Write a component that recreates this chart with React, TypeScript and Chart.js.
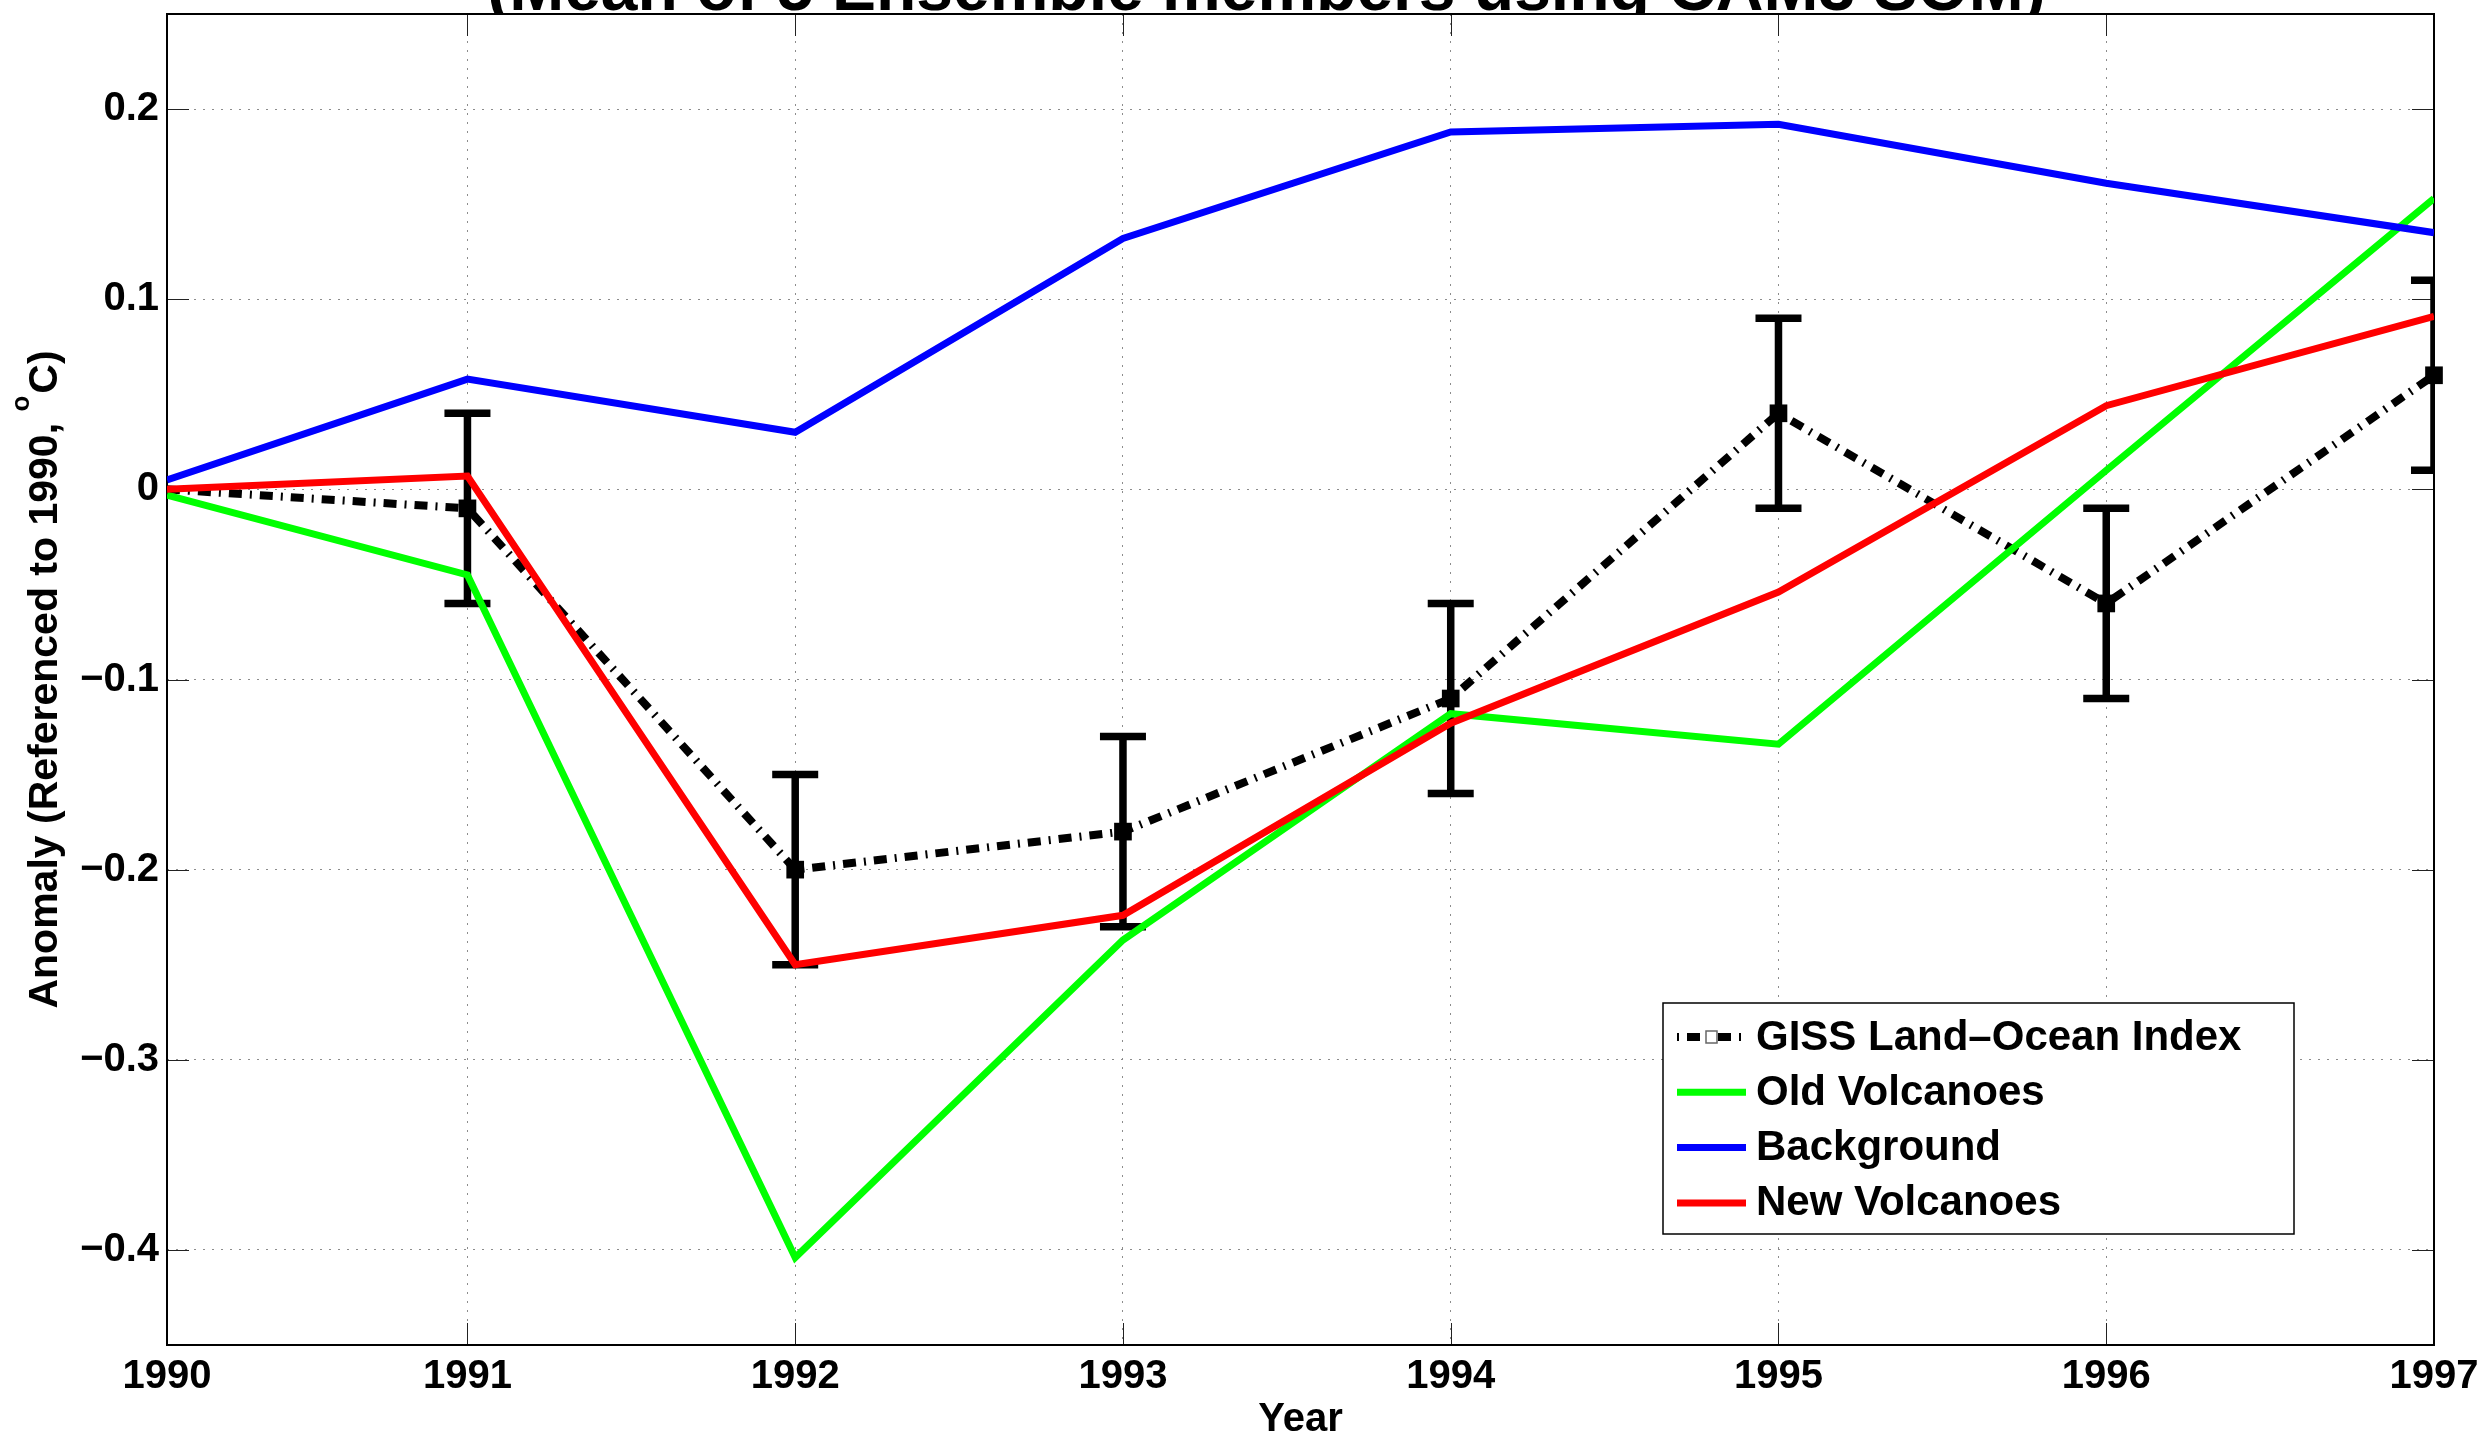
import React, { useEffect, useRef } from 'react';
import { Chart, registerables } from 'chart.js';

Chart.register(...registerables);

// ---- data ----
const yearLabels = ['1990', '1991', '1992', '1993', '1994', '1995', '1996', '1997'];
// decimal-year sample times (first sample is end of January 1990)
const sampleTimes = [1990 + 1 / 12, 1991, 1992, 1993, 1994, 1995, 1996, 1997];
const gissIndex = [0, -0.01, -0.2, -0.18, -0.11, 0.04, -0.06, 0.06];
const gissError = [0, 0.05, 0.05, 0.05, 0.05, 0.05, 0.05, 0.05];
const oldVolcanoes = [-0.003, -0.045, -0.404, -0.237, -0.118, -0.134, 0.01, 0.153];
const background = [0.005, 0.058, 0.03, 0.132, 0.188, 0.192, 0.161, 0.135];
const newVolcanoes = [0, 0.007, -0.25, -0.224, -0.123, -0.054, 0.044, 0.091];
const yTickValues = [-0.4, -0.3, -0.2, -0.1, 0, 0.1, 0.2];
const seriesNames = ['GISS Land\u2013Ocean Index', 'Old Volcanoes', 'Background', 'New Volcanoes'];
const titleText = '(Mean of 5 Ensemble members using CAM3 SOM)';
const xTitle = 'Year';
const yTitleMain = 'Anomaly (Referenced to 1990, ';
const yTitleSup = 'o';
const yTitleEnd = 'C)';

const FONT = '"Liberation Sans", Arial, Helvetica, sans-serif';
const GISS_DASH = [13, 8, 2, 8];

const toPoints = (vals: number[]) => sampleTimes.map((t, i) => ({ x: t, y: vals[i] }));

const fmtY = (v: number) => {
  if (Math.abs(v) < 1e-9) return '0';
  return (v < 0 ? '\u2212' : '') + Math.abs(v).toFixed(1);
};

const decorPlugin = {
  id: 'figureDecor',
  beforeDraw(chart: any) {
    const { ctx, chartArea: a, width, height } = chart;
    ctx.save();
    ctx.fillStyle = '#fff';
    ctx.fillRect(0, 0, width, height);
    // title sits above the axes
    ctx.fillStyle = '#000';
    ctx.font = `bold 66px ${FONT}`;
    ctx.textAlign = 'center';
    ctx.textBaseline = 'alphabetic';
    ctx.fillText(titleText, (a.left + a.right) / 2 - 34, a.top - 4);
    ctx.fillStyle = '#fff';
    ctx.fillRect(a.left, a.top, a.right - a.left, a.bottom - a.top);
    ctx.restore();
  },
  beforeDatasetsDraw(chart: any) {
    const { ctx, chartArea: a, scales } = chart;
    const xs = scales.x;
    const ys = scales.y;
    ctx.save();
    // inward tick marks on all four sides
    ctx.strokeStyle = '#222';
    ctx.lineWidth = 1;
    const tl = 22;
    ctx.beginPath();
    xs.ticks.forEach((t: any) => {
      const px = Math.round(xs.getPixelForValue(t.value)) + 0.5;
      if (px <= a.left + 2 || px >= a.right - 2) return;
      ctx.moveTo(px, a.bottom);
      ctx.lineTo(px, a.bottom - tl);
      ctx.moveTo(px, a.top);
      ctx.lineTo(px, a.top + tl);
    });
    ys.ticks.forEach((t: any) => {
      const py = Math.round(ys.getPixelForValue(t.value)) + 0.5;
      ctx.moveTo(a.left, py);
      ctx.lineTo(a.left + tl, py);
      ctx.moveTo(a.right, py);
      ctx.lineTo(a.right - tl, py);
    });
    ctx.stroke();

    // axes box
    ctx.strokeStyle = '#000';
    ctx.lineWidth = 2;
    ctx.strokeRect(a.left, a.top, a.right - a.left, a.bottom - a.top);

    // error bars of the observed index
    ctx.beginPath();
    ctx.rect(a.left, a.top, a.right - a.left, a.bottom - a.top);
    ctx.clip();
    ctx.strokeStyle = '#000';
    ctx.lineWidth = 7.5;
    ctx.lineCap = 'butt';
    const cap = 23;
    gissIndex.forEach((v, i) => {
      const e = gissError[i];
      if (!e) return;
      const px = xs.getPixelForValue(sampleTimes[i]);
      const yt = ys.getPixelForValue(v + e);
      const yb = ys.getPixelForValue(v - e);
      ctx.beginPath();
      ctx.moveTo(px, yt);
      ctx.lineTo(px, yb);
      ctx.moveTo(px - cap, yt);
      ctx.lineTo(px + cap, yt);
      ctx.moveTo(px - cap, yb);
      ctx.lineTo(px + cap, yb);
      ctx.stroke();
    });
    ctx.restore();
  },
  afterDraw(chart: any) {
    const { ctx, chartArea: a } = chart;
    ctx.save();
    ctx.fillStyle = '#000';

    // x axis title
    ctx.font = `bold 40px ${FONT}`;
    ctx.textAlign = 'center';
    ctx.textBaseline = 'alphabetic';
    ctx.fillText(xTitle, (a.left + a.right) / 2, a.bottom + 86);

    // y axis title with superscript degree mark
    ctx.save();
    ctx.translate(57, (a.top + a.bottom) / 2);
    ctx.rotate(-Math.PI / 2);
    ctx.textAlign = 'left';
    ctx.font = `bold 41px ${FONT}`;
    const w1 = ctx.measureText(yTitleMain).width;
    const w3 = ctx.measureText(yTitleEnd).width;
    ctx.font = `bold 26px ${FONT}`;
    const w2 = ctx.measureText(yTitleSup).width + 2;
    const x0 = -(w1 + w2 + w3) / 2;
    ctx.font = `bold 41px ${FONT}`;
    ctx.fillText(yTitleMain, x0, 0);
    ctx.fillText(yTitleEnd, x0 + w1 + w2, 0);
    ctx.font = `bold 26px ${FONT}`;
    ctx.fillText(yTitleSup, x0 + w1, -28);
    ctx.restore();

    // legend
    const bx = a.right - 771;
    const by = a.bottom - 342;
    const bw = 631;
    const bh = 231;
    ctx.fillStyle = '#fff';
    ctx.fillRect(bx, by, bw, bh);
    ctx.strokeStyle = '#000';
    ctx.lineWidth = 1.5;
    ctx.strokeRect(bx, by, bw, bh);
    const rowStep = 55.3;
    const sx0 = bx + 14;
    const sx1 = bx + 83;
    chart.data.datasets.forEach((ds: any, i: number) => {
      const cy = by + 34 + i * rowStep;
      ctx.save();
      ctx.strokeStyle = ds.borderColor;
      ctx.lineWidth = ds.borderWidth;
      ctx.lineCap = 'butt';
      if (ds.borderDash) {
        ctx.setLineDash(ds.borderDash);
        ctx.lineDashOffset = 21;
      }
      ctx.beginPath();
      ctx.moveTo(sx0, cy);
      ctx.lineTo(sx1, cy);
      ctx.stroke();
      ctx.setLineDash([]);
      if (ds.pointStyle === 'rect') {
        const mx = (sx0 + sx1) / 2;
        ctx.fillStyle = '#fff';
        ctx.fillRect(mx - 5.5, cy - 6, 11, 12);
        ctx.strokeStyle = '#666';
        ctx.lineWidth = 1.5;
        ctx.strokeRect(mx - 5.5, cy - 6, 11, 12);
      }
      ctx.restore();
      ctx.fillStyle = '#000';
      ctx.font = `bold 42px ${FONT}`;
      ctx.textAlign = 'left';
      ctx.textBaseline = 'middle';
      ctx.fillText(ds.label, bx + 93, cy + 1);
    });
    ctx.restore();
  },
};

export default function App() {
  const ref = useRef<HTMLCanvasElement>(null);

  useEffect(() => {
    if (!ref.current) return;
    const chart = new Chart(ref.current, {
      type: 'line',
      data: {
        datasets: [
          {
            label: seriesNames[0],
            data: toPoints(gissIndex),
            borderColor: '#000',
            borderWidth: 8,
            borderDash: GISS_DASH,
            borderCapStyle: 'butt',
            pointStyle: 'rect',
            pointRadius: (c: any) => (gissError[c.dataIndex] > 0 ? 12.5 : 0),
            pointBackgroundColor: '#000',
            pointBorderWidth: 0,
            tension: 0,
            order: 4,
            clip: false,
          } as any,
          {
            label: seriesNames[1],
            data: toPoints(oldVolcanoes),
            borderColor: '#00ff00',
            borderWidth: 7,
            pointRadius: 0,
            tension: 0,
            order: 3,
          },
          {
            label: seriesNames[2],
            data: toPoints(background),
            borderColor: '#0000ff',
            borderWidth: 7,
            pointRadius: 0,
            tension: 0,
            order: 2,
          },
          {
            label: seriesNames[3],
            data: toPoints(newVolcanoes),
            borderColor: '#ff0000',
            borderWidth: 7,
            pointRadius: 0,
            tension: 0,
            order: 1,
          },
        ],
      },
      options: {
        responsive: false,
        animation: false,
        devicePixelRatio: 1,
        layout: { padding: { top: 14, right: 50, left: 0, bottom: 0 } },
        plugins: {
          legend: { display: false },
          tooltip: { enabled: false },
          title: { display: false },
        },
        scales: {
          x: {
            type: 'linear',
            min: sampleTimes[0],
            max: sampleTimes[sampleTimes.length - 1],
            afterBuildTicks: (s: any) => {
              s.ticks = sampleTimes.map((v) => ({ value: v }));
            },
            afterFit: (s: any) => {
              s.height = 89;
              s.paddingLeft = 0;
              s.paddingRight = 0;
            },
            ticks: {
              autoSkip: false,
              maxRotation: 0,
              padding: 8,
              color: '#000',
              font: { family: FONT, size: 40, weight: 'bold' },
              callback: (_v: any, i: number) => yearLabels[i],
            },
            grid: { color: '#8c8c8c', lineWidth: 1, drawTicks: false },
            border: { display: false, dash: [2, 7] },
          },
          y: {
            type: 'linear',
            min: -0.45,
            max: 0.25,
            afterBuildTicks: (s: any) => {
              s.ticks = yTickValues.map((v) => ({ value: v }));
            },
            afterFit: (s: any) => {
              s.width = 167;
              s.paddingTop = 0;
              s.paddingBottom = 0;
            },
            ticks: {
              padding: 8,
              color: '#000',
              font: { family: FONT, size: 40, weight: 'bold' },
              callback: (v: any) => fmtY(Number(v)),
            },
            grid: { color: '#8c8c8c', lineWidth: 1, drawTicks: false },
            border: { display: false, dash: [2, 7] },
          },
        },
      } as any,
      plugins: [decorPlugin],
    });
    return () => chart.destroy();
  }, []);

  return (
    <div
      style={{
        position: 'fixed',
        left: 0,
        top: 0,
        width: 2484,
        height: 1434,
        overflow: 'hidden',
        background: '#fff',
      }}
    >
      <canvas ref={ref} width={2484} height={1434} style={{ display: 'block', width: 2484, height: 1434 }} />
    </div>
  );
}
